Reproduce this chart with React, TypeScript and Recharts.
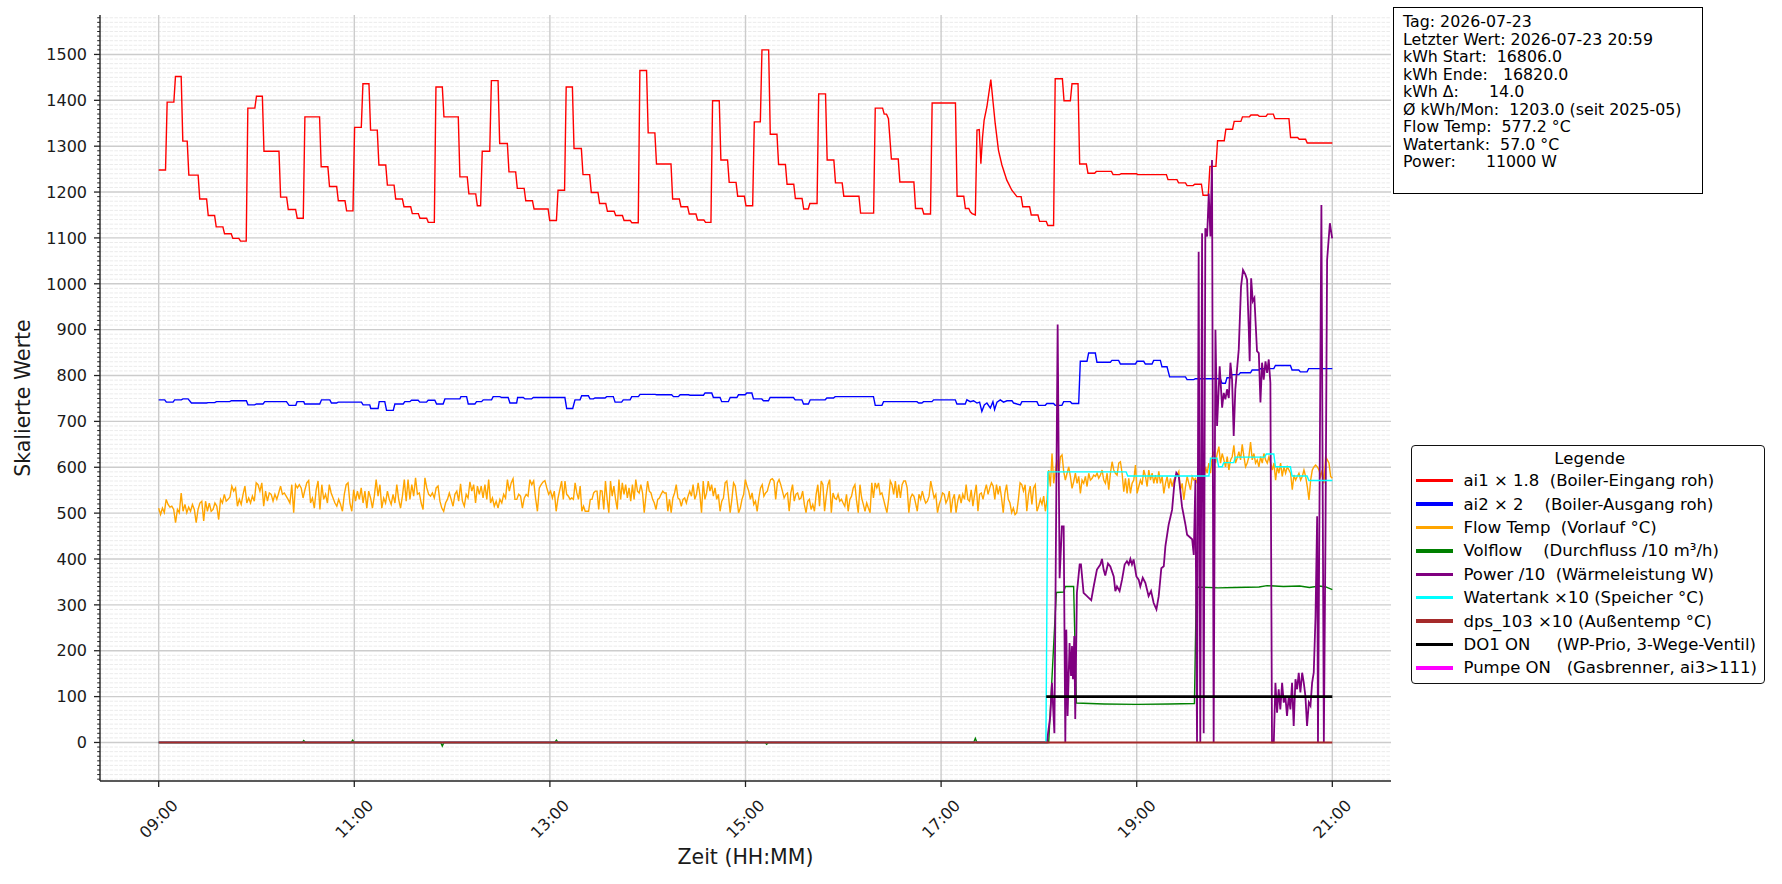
import React from "react";
import { LineChart, Line, XAxis, YAxis, CartesianGrid } from "recharts";

if (typeof document !== "undefined") {
  document.body.style.margin = "0";
}

const FONT = "'DejaVu Sans', 'Liberation Sans', sans-serif";

// time axis: minutes after 09:00
const xTicks = [0, 120, 240, 360, 480, 600, 720];
const xTickLabels = ["09:00", "11:00", "13:00", "15:00", "17:00", "19:00", "21:00"];
const xDomain = [-36, 756];
const yDomain = [-84, 1586];
const yMajorTicks = [0, 100, 200, 300, 400, 500, 600, 700, 800, 900, 1000, 1100, 1200, 1300, 1400, 1500];
const yMinorStep = 10;

// ai1 x 1.8 : plateaus [start, end, value]
const ai1Plateaus: number[][] = [
  [0, 4.2, 1248], [5.2, 9.3, 1396], [10.3, 13.8, 1452], [14.8, 17.5, 1311], [18.5, 24.2, 1237],
  [25.2, 29.4, 1185], [30.4, 34.3, 1149], [35.3, 39.4, 1124], [40.4, 44.5, 1109], [45.5, 49.2, 1099],
  [50.2, 53.7, 1093], [54.7, 59, 1383], [60, 63.6, 1409], [64.6, 73.8, 1289], [74.8, 78.5, 1189],
  [79.5, 84, 1162], [85, 88.7, 1143], [89.7, 98.7, 1364], [99.7, 103.8, 1255], [104.8, 109.2, 1212],
  [110.2, 114.3, 1181], [115.3, 119.2, 1159], [120.2, 124.3, 1341], [125.3, 129, 1436], [130, 134.1, 1335],
  [135.1, 139.3, 1259], [140.3, 144.4, 1215], [145.4, 149.5, 1185], [150.5, 154.6, 1168], [155.6, 159.3, 1153],
  [160.3, 164.4, 1143], [165.4, 169.1, 1134], [170.1, 174, 1429], [175, 183.8, 1364], [184.8, 189.3, 1233],
  [190.3, 194.5, 1196], [195.5, 197.5, 1170], [198.5, 203.1, 1289], [204.1, 208.2, 1443], [209.2, 213.9, 1306],
  [214.9, 219, 1244], [220, 224.2, 1208], [225.2, 229.3, 1181], [230.3, 238.9, 1163], [239.9, 244, 1138],
  [245, 249, 1204], [250, 253.8, 1429], [254.8, 259.3, 1295], [260.3, 264.4, 1238], [265.4, 269.5, 1199],
  [270.5, 274.3, 1175], [275.3, 279.4, 1158], [280.4, 284.5, 1149], [285.5, 289.3, 1138], [290.3, 294.2, 1133],
  [295.2, 299.3, 1465], [300.3, 304.4, 1329], [305.4, 314.3, 1261], [315.3, 319.4, 1185], [320.4, 324.5, 1168],
  [325.5, 329.6, 1152], [330.6, 334.5, 1139], [335.5, 338.8, 1134], [339.8, 343.9, 1399], [344.9, 349, 1270],
  [350, 354.2, 1221], [355.2, 359.3, 1191], [360.3, 364.4, 1170], [365.4, 369.1, 1353], [370.1, 374.2, 1510],
  [375.2, 379.3, 1326], [380.3, 384.5, 1260], [385.5, 389.6, 1217], [390.6, 394.7, 1186], [395.7, 398.5, 1163],
  [399.5, 403.9, 1175], [404.9, 409.1, 1414], [410.1, 414.2, 1270], [415.2, 419.3, 1220], [420.3, 429.6, 1191],
  [430.6, 438.6, 1154], [439.6, 444.1, 1383], [445.1, 446.5, 1370], [447.7, 447.7, 1360], [449.5, 453.7, 1272],
  [454.7, 463.3, 1222], [464.3, 468.4, 1164], [469.4, 473.5, 1152], [474.5, 488.8, 1394], [489.8, 493.9, 1191],
  [494.9, 497, 1164], [497.9, 497.9, 1157], [499, 499, 1153], [501, 501, 1150], [502, 502, 1335],
  [503.4, 503.4, 1336], [504.4, 504.4, 1262], [505.4, 505.4, 1319], [506.4, 506.4, 1357], [508.1, 508.1, 1386],
  [510.5, 510.5, 1445], [513.2, 513.2, 1349], [515.2, 515.2, 1291], [517.3, 517.3, 1259], [520.3, 520.3, 1226],
  [523.4, 523.4, 1204], [526.5, 529.1, 1190], [530.1, 534.3, 1168], [535.3, 539.4, 1150], [540.4, 544.5, 1136],
  [545.5, 549, 1127], [550, 554.4, 1447], [555.4, 559.3, 1399], [560.3, 564, 1436], [565, 569.1, 1261],
  [570.1, 574.2, 1241], [575.2, 584.5, 1245], [585.5, 589.5, 1238], [590.5, 600, 1240], [600.5, 618.2, 1238],
  [619.2, 624.7, 1227], [625.7, 629.9, 1220], [630.9, 634.6, 1214], [635.6, 639.7, 1217], [640.7, 643.9, 1193],
  [644.9, 648.6, 1256], [649.6, 653.7, 1312], [654.7, 658.8, 1337], [659.8, 663.9, 1354], [664.9, 669.1, 1364],
  [670.1, 674.2, 1368], [675.2, 679.3, 1365], [680.3, 683.8, 1370], [684.8, 693.4, 1360], [694.4, 698.7, 1319],
  [699.7, 703.6, 1315], [704.6, 720, 1307],
];

// ai2 x 2 : plateaus [start, end, value]
const ai2Plateaus: number[][] = [
  [0, 3.7, 747], [4.7, 8.8, 742], [9.8, 13.9, 747], [14.9, 18, 749], [20.1, 29.3, 740], [30.3, 34.4, 741],
  [35.4, 43.6, 743], [44.6, 53.8, 745], [54.8, 58.9, 736], [60, 64, 738], [65.1, 78.4, 743], [80, 84.1, 735],
  [84.9, 89, 743], [89.6, 98.8, 738], [99.9, 105, 747], [106, 109.1, 740], [110.1, 124.4, 742], [125.4, 129.5, 736],
  [130.1, 134.6, 728], [135.3, 138.7, 743], [139.8, 143.9, 724], [144.9, 150, 738], [151, 154.1, 743],
  [155.1, 159.2, 746], [160.2, 164.3, 742], [165.3, 169.4, 746], [170.5, 174.5, 738], [175.6, 184.8, 749],
  [185.4, 188.9, 754], [189.9, 194, 738], [195, 198.1, 743], [199.1, 204.2, 747], [205.2, 209.3, 754],
  [210.4, 214.4, 752], [215.5, 219.6, 740], [220.2, 223.7, 752], [224.7, 228.8, 749], [229.8, 249.2, 752],
  [250.3, 254, 728], [255.4, 258.5, 747], [259.5, 263.6, 756], [264.6, 266.7, 749], [267.7, 273.8, 751],
  [274.8, 278.9, 754], [280, 284, 742], [285, 289.2, 747], [290.2, 294.3, 754], [295.3, 304.5, 759],
  [305.5, 314.7, 758], [315.8, 318.8, 754], [319.9, 325, 758], [326, 334.2, 757], [335.2, 339.3, 762],
  [340.3, 344.4, 752], [345.4, 349.5, 743], [350.6, 354.7, 752], [355.7, 359.8, 758], [360.8, 363.9, 762],
  [364.9, 370, 749], [371, 374.1, 745], [375.1, 389.4, 752], [390.5, 394.6, 747], [395.6, 398.6, 738],
  [399.7, 408.9, 747], [409.9, 414, 751], [415, 438.5, 754], [439.6, 443.7, 735], [444.7, 465.2, 743],
  [466.2, 468.2, 740], [469.2, 474.4, 743], [475.4, 488.7, 747], [489.7, 494.8, 738], [495.8, 495.8, 747],
  [497.9, 497.9, 743], [499.9, 499.9, 745], [502, 502, 740], [503.6, 503.6, 742], [505, 505, 722],
  [506.5, 506.5, 736], [508.1, 508.1, 740], [510.2, 510.2, 729], [511.8, 511.8, 743], [512.8, 512.8, 726],
  [514.3, 514.3, 742], [516.3, 516.3, 747], [518.3, 518.3, 742], [520.4, 523.5, 745], [524.5, 524.5, 740],
  [528.6, 528.6, 736], [529.6, 533.7, 743], [534.7, 538.8, 743], [539.8, 543.9, 735], [544.9, 549, 739],
  [550, 554.1, 735], [555.2, 559.3, 743], [560.3, 564.4, 739], [565.4, 569.5, 831], [570.5, 574.6, 849],
  [575.6, 583.8, 829], [584.8, 588.9, 833], [590, 599.2, 825], [600.2, 604.3, 831], [605.3, 609.4, 825],
  [610.4, 614.5, 833], [615.5, 618.6, 819], [620.2, 629.9, 797], [630.9, 635, 791], [636, 651.3, 793],
  [652.3, 654.4, 783], [655.4, 657.5, 795], [658.5, 662.6, 802], [663.6, 669.8, 806], [670.8, 674.9, 812],
  [675.9, 684.1, 815], [685.1, 694.3, 822], [695.3, 699.4, 812], [700.4, 704.5, 808], [705.5, 720, 815],
];

// Flow Temp samples, evenly spaced inside each window
const flowTemp0900: number[] = [
  511, 497, 511, 501, 530, 519, 513, 515, 508, 479, 508, 501, 544, 504, 519, 501, 513, 504, 519, 508,
  479, 508, 522, 526, 483, 526, 504, 522, 504, 508, 522, 515, 486, 530, 522, 541, 526, 530, 535, 559,
  548, 555, 515, 530, 519, 541, 559, 522, 533, 522, 537, 526, 566, 562, 548, 566, 515, 548, 526, 544,
  541, 526, 541, 530, 544, 559, 541, 544, 537, 530, 522, 562, 501, 562, 555, 562, 555, 533, 551, 566,
  571, 522, 533, 511, 551, 570, 508, 562, 530, 541, 522, 562, 544, 533, 522, 515, 530, 519, 504, 541,
  562, 566, 522, 504, 551, 526, 548, 530, 555, 522, 548, 511, 548, 533, 511, 537, 573, 537, 562, 511,
  533, 522, 548, 530, 519, 541, 522, 562, 530, 511, 537, 573, 526, 573, 530, 562, 537, 577, 541, 544,
  522, 508, 577, 555, 541, 537, 544, 533, 555, 559, 526, 511, 504, 522, 530, 544, 530, 515, 541, 548,
  526, 564, 526, 515, 541, 533, 568, 548, 562, 522, 559, 541, 559, 533, 562, 530, 573, 522, 533, 515,
  526, 511, 530, 522, 541, 533, 573, 548, 566, 575, 530, 530, 541, 537, 511, 533, 541, 537, 573, 562,
  570, 533, 504, 555, 562, 568, 571, 555, 541, 548, 533, 548, 504, 533,
];
const flowTemp1307: number[] = [
  570, 530, 570, 541, 537, 530, 533, 530, 566, 544, 530, 559, 504, 515, 504, 504, 504, 530, 530, 544,
  548, 548, 508, 549, 548, 508, 570, 530, 501, 570, 537, 559, 530, 508, 573, 530, 566, 541, 562, 533,
  555, 526, 562, 530, 573, 548, 544, 562, 544, 501, 537, 570, 548, 544, 530, 522, 508, 530, 533, 541,
  548, 544, 544, 504, 530, 501, 533, 544, 562, 533, 530, 515, 530, 533, 522, 537, 548, 537, 562, 530,
  541, 566, 541, 501, 570, 530, 544, 570, 548, 562, 537, 555, 530, 541, 504, 526, 533, 566, 570, 537,
  501, 530, 566, 559, 530, 501, 511, 530, 541, 573, 559, 548, 530, 544, 519, 526, 504, 533, 555, 562,
  537, 544, 548, 562, 573, 575, 570, 530, 566, 573, 562, 548, 533, 541, 544, 504, 544, 562, 526, 541,
  544, 530, 533, 548, 519, 501, 526, 530, 508, 519, 504, 541, 562, 515, 570, 562, 504, 537, 562, 573,
  501, 544, 533, 530, 541, 526, 530, 522, 515, 541, 504, 530, 537, 555, 562, 526, 501, 562, 533, 519,
  504, 522, 511, 501, 566, 533, 566, 555, 566, 541, 544, 530, 515, 501, 530, 570, 562, 541, 570, 533,
  562, 533, 562, 570, 570, 555, 501, 533, 541, 537, 522, 504, 541, 530, 548, 533, 522, 526, 537, 570,
  551, 533, 541, 501, 519, 530, 544, 541, 522, 530, 548, 501, 530, 541, 501, 526, 541, 522, 541, 530,
  562, 530, 526, 551, 515, 541, 562, 504, 541, 544, 530, 548, 562, 541, 555, 566, 559, 530, 562, 541,
  559, 533, 501, 544, 562, 530, 522, 501, 511, 497, 501, 530, 566, 562, 548, 562, 504, 541, 559, 519,
  555, 562, 504, 515, 530, 519, 537, 504, 530,
];
const flowTemp1806: number[] = [
  594, 558, 630, 565, 594, 616, 583, 623, 627, 591, 572, 587, 601, 580, 554, 569, 587, 565, 580, 543,
  572, 565, 580, 558, 587, 572, 576, 583, 580, 587, 576, 583, 594, 572, 565, 587, 551, 587, 612, 594,
  587, 583, 609, 612, 587, 547, 576, 543, 576, 543, 565, 572, 605, 543, 558, 572, 562, 594, 580, 558,
  594, 572, 587, 565, 583, 565, 591, 565, 580, 543, 565, 580, 554, 576, 558, 572, 580, 583, 591, 551,
  565, 529, 558, 580, 565, 551, 580, 572, 576, 565, 587, 565, 543, 572, 601, 587, 609, 587, 623, 634,
  609, 630, 645, 609, 630, 616, 601, 623, 594, 616, 623, 648, 609, 620, 634, 616, 650, 623, 601, 609,
  623, 655, 616, 630, 609, 616, 601, 623, 609, 630, 616, 609, 623, 609, 594, 609, 572, 601, 587, 609,
  580, 601, 587, 601, 594, 587, 551, 583, 572, 580, 587, 572, 580, 594, 580, 558, 529, 572, 594, 601,
  605, 601, 594, 580, 594, 565, 623, 616, 609, 580, 576,
];
const flowWindows: number[][] = [[0, 245], [247.2, 545], [546, 720]];

// Volflow /10 : [t, value]
const volflow: number[][] = [
  [0, 0], [88, 0], [89, 4], [90, 0], [118, 0], [119, 5], [120, 0], [173, 0], [174, -8], [175, 0],
  [243, 0], [244, 5], [245, 0], [360, 0], [361, 3], [362, 0], [372, 0], [373, -4], [374, 0],
  [500, 0], [501, 9], [502, 0], [546, 0], [550.7, 327], [555.2, 328], [556.2, 340], [561.3, 340],
  [563, 86], [580, 84], [600, 83], [620, 84], [635.4, 85], [636.6, 339], [650, 337], [660, 338],
  [675, 339], [680, 342], [690, 340], [700, 341], [706, 338], [712, 341], [716, 339], [720, 333],
];

// Power /10 : [t, value]
const power: number[][] = [
  [0, 0], [544.9, 0], [547, 58], [548, 130], [549.5, 20], [551.5, 911], [552.7, 358], [554.1, 471],
  [555.2, 471], [556.2, 0], [556.8, 246], [557.6, 58], [558.8, 217], [559.7, 145], [560.3, 210],
  [560.9, 138], [561.7, 232], [562.3, 51], [563.3, 326], [565, 388], [565.8, 388], [567.4, 326],
  [569.5, 319], [572.1, 310], [573.6, 340], [575.6, 377], [577.7, 388], [578.7, 400], [579.7, 377],
  [580.7, 364], [582.4, 390], [583.8, 384], [585.9, 362], [586.9, 330], [587.9, 340], [589.5, 330],
  [591, 355], [592.6, 388], [594, 395], [595.1, 388], [596.1, 400], [597.1, 388], [598.1, 399],
  [599.8, 362], [601.2, 355], [602.2, 340], [603.7, 359], [605.3, 348], [607.3, 319], [608.8, 330],
  [610.4, 304], [612.1, 290], [613.5, 319], [615.1, 380], [616.6, 384], [617.6, 428], [619.6, 475],
  [621.7, 507], [623.1, 565], [624.3, 588], [625.8, 580], [627.8, 514], [629.9, 475], [630.9, 453],
  [634, 443], [635, 409], [636, 572], [637, 0], [638, 1070], [639, 0], [640.1, 1110], [641.1, 20],
  [642.1, 1121], [643.2, 1103], [644.2, 1197], [645.2, 1103], [646.2, 1270], [647.2, 0], [648.3, 900],
  [649.3, 690], [650.9, 820], [652.4, 730], [653.4, 762], [654.4, 748], [655.4, 770], [656.5, 751],
  [657.5, 828], [658.5, 791], [659.5, 668], [660.5, 770], [662.6, 857], [664, 994], [665.2, 1030],
  [666.7, 1020], [667.7, 1009], [668.7, 907], [669.3, 831], [670.2, 1012], [671.2, 962], [672.2, 969],
  [673.8, 853], [674.9, 849], [675.9, 741], [676.9, 828], [677.9, 791], [679, 831], [680, 806],
  [681, 835], [682, 784], [683, 0], [684.1, 0], [685.1, 130], [686.1, 65], [687.1, 116], [688.1, 72],
  [689.2, 130], [690.2, 87], [691.2, 101], [692.2, 58], [693.3, 101], [694.3, 72], [695.3, 130],
  [696.3, 36], [697.4, 138], [698.4, 116], [699.4, 152], [700.4, 109], [701.5, 152], [702.5, 130],
  [703.5, 101], [704.5, 36], [705.6, 87], [706.6, 80], [707.6, 130], [708.6, 152], [709.7, 275],
  [710.7, 493], [711.2, 0], [713.3, 1172], [714.8, 0], [715.8, 449], [716.8, 1052], [718.5, 1132],
  [719.9, 1099],
];

// Watertank x10 : plateaus [start, end, value]
const watertankPlateaus: number[][] = [
  [0, 544.3, 0], [545.5, 593.5, 590], [594.5, 644.3, 581], [645.3, 649.3, 620], [650.3, 652.4, 601],
  [653.4, 659.5, 610], [660.5, 678.5, 622], [679.5, 684.1, 629], [685.1, 694.3, 601], [695.3, 704.5, 581],
  [705.6, 720, 571],
];

// dps_103 x10 : [t, value]
const dps103: number[][] = [[0, 0], [720, 0]];
// DO1 ON : [t, value]
const do1On: number[][] = [[544.5, 100], [720, 100]];
// Pumpe ON : no samples on this day
const pumpeOn: number[][] = [];

const legendLabels = [
  "ai1 × 1.8  (Boiler-Eingang roh)",
  "ai2 × 2    (Boiler-Ausgang roh)",
  "Flow Temp  (Vorlauf °C)",
  "Volflow    (Durchfluss /10 m³/h)",
  "Power /10  (Wärmeleistung W)",
  "Watertank ×10 (Speicher °C)",
  "dps_103 ×10 (Außentemp °C)",
  "DO1 ON     (WP-Prio, 3-Wege-Ventil)",
  "Pumpe ON   (Gasbrenner, ai3>111)",
];
const seriesColors = ["#ff0000", "#0000ff", "#ffa500", "#008000", "#800080", "#00ffff", "#a52a2a", "#000000", "#ff00ff"];

const infoLines = [
  "Tag: 2026-07-23",
  "Letzter Wert: 2026-07-23 20:59",
  "kWh Start:  16806.0",
  "kWh Ende:   16820.0",
  "kWh Δ:      14.0",
  "Ø kWh/Mon:  1203.0 (seit 2025-05)",
  "Flow Temp:  577.2 °C",
  "Watertank:  57.0 °C",
  "Power:      11000 W",
];

// ---- builders ----
const fromPlateaus = (p: number[][]) =>
  p.flatMap(([s, e, v]) => (s === e ? [{ t: s, v }] : [{ t: s, v }, { t: e, v }]));
const fromPairs = (p: number[][]) => p.map(([t, v]) => ({ t, v }));
const fromSamples = (vals: number[], win: number[]) =>
  vals.map((v, i) => ({ t: win[0] + (i * (win[1] - win[0])) / (vals.length - 1), v }));

const ai1Data = fromPlateaus(ai1Plateaus);
const ai2Data = fromPlateaus(ai2Plateaus);
const flowData = [
  ...fromSamples(flowTemp0900, flowWindows[0]),
  ...fromSamples(flowTemp1307, flowWindows[1]),
  ...fromSamples(flowTemp1806, flowWindows[2]),
];
const volflowData = fromPairs(volflow);
const powerData = fromPairs(power);
const watertankData = fromPlateaus(watertankPlateaus);
const dpsData = fromPairs(dps103);
const do1Data = fromPairs(do1On);
const pumpeData = fromPairs(pumpeOn);

const yAllTicks: number[] = [];
for (let v = -80; v <= 1580; v += yMinorStep) yAllTicks.push(v);
const yMinorTicks = yAllTicks.filter((v) => v % 100 !== 0);

const fmtTime = (t: number) => {
  const i = xTicks.indexOf(t);
  return i >= 0 ? xTickLabels[i] : "";
};

const YTick = (props: any) => {
  const { x, y, payload } = props;
  const v = payload.value;
  const major = v % 100 === 0;
  return (
    <g>
      <line x1={x - (major ? 6 : 2.8)} x2={x} y1={y} y2={y} stroke="#222" strokeWidth={major ? 1.3 : 1} />
      {major && (
        <text x={x - 13} y={y} dy="0.36em" textAnchor="end" fontSize={16} fontFamily={FONT} fill="#1a1a1a">
          {v}
        </text>
      )}
    </g>
  );
};

const XTick = (props: any) => {
  const { x, y, payload } = props;
  return (
    <g>
      <line x1={x} x2={x} y1={y} y2={y + 6} stroke="#222" strokeWidth={1.3} />
      <text
        transform={`translate(${x},${y + 38}) rotate(-45)`}
        textAnchor="middle"
        dominantBaseline="central"
        fontSize={16}
        fontFamily={FONT}
        fill="#1a1a1a"
      >
        {fmtTime(payload.value)}
      </text>
    </g>
  );
};

const YLabel = (props: any) => {
  const vb = props.viewBox;
  const cx = vb.x + 23;
  const cy = vb.y + vb.height / 2;
  return (
    <text
      transform={`translate(${cx},${cy}) rotate(-90)`}
      textAnchor="middle"
      dominantBaseline="central"
      fontSize={20.5}
      fontFamily={FONT}
      fill="#1a1a1a"
    >
      Skalierte Werte
    </text>
  );
};

const XLabel = (props: any) => {
  const vb = props.viewBox;
  return (
    <text
      x={vb.x + vb.width / 2}
      y={vb.y + 76}
      textAnchor="middle"
      dominantBaseline="central"
      fontSize={20.5}
      fontFamily={FONT}
      fill="#1a1a1a"
    >
      Zeit (HH:MM)
    </text>
  );
};

const spine = { stroke: "#222", strokeWidth: 1.4 };

export default function App() {
  const lineWidths = [1.4, 1.4, 1.4, 1.4, 1.8, 1.4, 2, 2.8, 2];
  const datasets = [ai1Data, ai2Data, flowData, volflowData, powerData, watertankData, dpsData, do1Data, pumpeData];
  return (
    <div style={{ position: "relative", width: 1782, height: 884, background: "#fff", fontFamily: FONT }}>
      <LineChart width={1782} height={884} margin={{ top: 15, right: 391, bottom: 0, left: 0 }}>
        <CartesianGrid
          horizontalValues={yMinorTicks}
          vertical={false}
          stroke="#e2e2e2"
          strokeWidth={0.7}
          strokeDasharray="3.5 1.3"
        />
        <CartesianGrid horizontalValues={yMajorTicks} verticalValues={xTicks} stroke="#cccccc" strokeWidth={1.4} />
        <XAxis
          type="number"
          dataKey="t"
          domain={xDomain}
          allowDataOverflow
          ticks={xTicks}
          interval={0}
          height={103}
          tickSize={0}
          tickMargin={0}
          tickLine={false}
          tick={<XTick />}
          axisLine={spine}
          label={<XLabel />}
        />
        <XAxis
          xAxisId="top"
          orientation="top"
          type="number"
          dataKey="t"
          domain={xDomain}
          allowDataOverflow
          height={0}
          tick={false}
          tickLine={false}
          axisLine={spine}
        />
        <YAxis
          type="number"
          domain={yDomain}
          allowDataOverflow
          ticks={yAllTicks}
          interval={0}
          width={100}
          tickSize={0}
          tickMargin={0}
          tickLine={false}
          tick={<YTick />}
          axisLine={spine}
          label={<YLabel />}
        />
        <YAxis
          yAxisId="right"
          orientation="right"
          type="number"
          domain={yDomain}
          allowDataOverflow
          width={0}
          tick={false}
          tickLine={false}
          axisLine={spine}
        />
        {datasets.map((d, i) => (
          <Line
            key={legendLabels[i]}
            data={d}
            dataKey="v"
            name={legendLabels[i]}
            type="linear"
            stroke={seriesColors[i]}
            strokeWidth={lineWidths[i]}
            dot={false}
            activeDot={false}
            isAnimationActive={false}
          />
        ))}
      </LineChart>

      <div
        style={{
          position: "absolute",
          left: 1393,
          top: 7,
          width: 310,
          height: 187,
          boxSizing: "border-box",
          border: "1.5px solid #000",
          background: "#fff",
          padding: "5px 0 0 9px",
          fontSize: 15.8,
          lineHeight: "17.5px",
          color: "#000",
          whiteSpace: "pre",
        }}
      >
        {infoLines.map((l) => (
          <div key={l}>{l}</div>
        ))}
      </div>

      <div
        style={{
          position: "absolute",
          left: 1411,
          top: 445,
          width: 354,
          height: 239,
          boxSizing: "border-box",
          border: "1.5px solid #111",
          borderRadius: 4,
          background: "#fff",
          padding: "3px 0 0 3.5px",
          fontSize: 16.5,
          color: "#000",
        }}
      >
        <div style={{ height: 20, lineHeight: "20px", textAlign: "center" }}>Legende</div>
        {legendLabels.map((l, i) => (
          <div key={l} style={{ display: "flex", alignItems: "center", height: 23.4 }}>
            <div style={{ width: 37, height: 3.5, background: seriesColors[i], marginRight: 11, flex: "none" }} />
            <div style={{ whiteSpace: "pre" }}>{l}</div>
          </div>
        ))}
      </div>
    </div>
  );
}
